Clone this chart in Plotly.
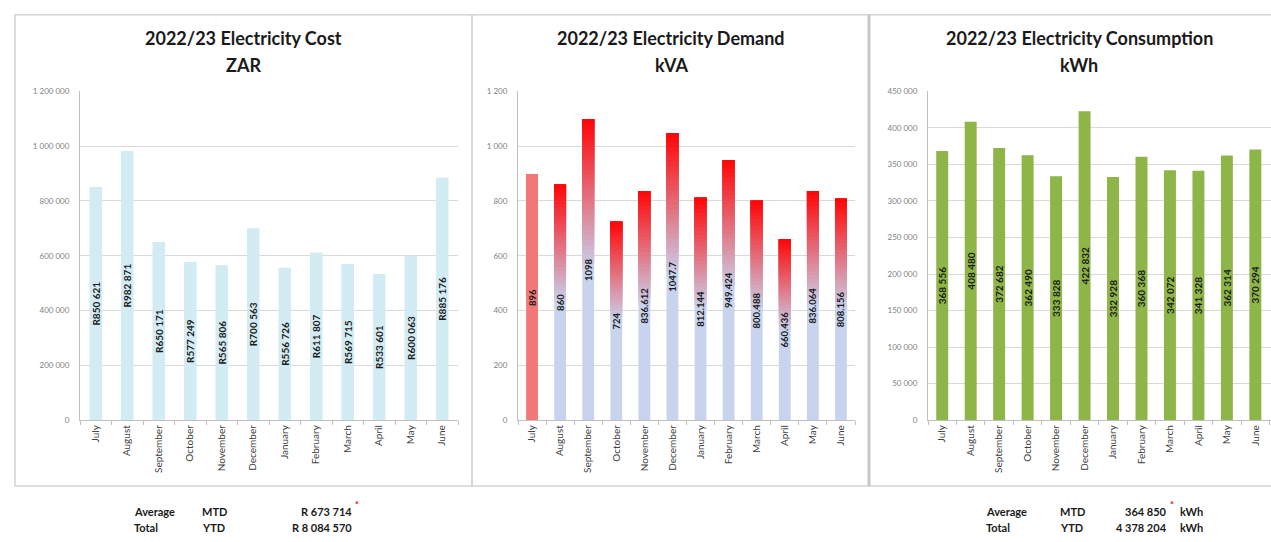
import plotly.graph_objects as go

W, H = 1271, 542

months = ["July", "August", "September", "October", "November", "December",
          "January", "February", "March", "April", "May", "June"]

cost = [850621, 982871, 650171, 577249, 565806, 700563,
        556726, 611807, 569715, 533601, 600063, 885176]
cost_labels = ["R850 621", "R982 871", "R650 171", "R577 249", "R565 806", "R700 563",
               "R556 726", "R611 807", "R569 715", "R533 601", "R600 063", "R885 176"]

demand = [896, 860, 1098, 724, 836.612, 1047.7,
          812.144, 949.424, 800.488, 660.436, 836.064, 808.156]
demand_labels = ["896", "860", "1098", "724", "836.612", "1047.7",
                 "812.144", "949.424", "800.488", "660.436", "836.064", "808.156"]

consumption = [368556, 408480, 372682, 362490, 333828, 422832,
               332928, 360368, 342072, 341328, 362314, 370294]
consumption_labels = ["368 556", "408 480", "372 682", "362 490", "333 828", "422 832",
                      "332 928", "360 368", "342 072", "341 328", "362 314", "370 294"]

cost_summary = ["R 673 714", "R 8 084 570"]
kwh_summary = ["364 850", "4 378 204"]

FONT = "Lato"
LABEL_FONT = dict(family=FONT, size=10, color="#1a1a1a", weight="bold")


def px(x):
    return x / W


def py(y):
    return 1 - y / H


fig = go.Figure()

# ---- Left: cost ----
fig.add_trace(go.Bar(
    x=months, y=cost, xaxis="x", yaxis="y", width=0.4,
    marker=dict(color="#d3ebf2", line=dict(width=0)),
    text=cost_labels, textposition="inside", insidetextanchor="middle",
    textangle=-90, constraintext="none", textfont=LABEL_FONT,
    showlegend=False, hoverinfo="x+y"))

# ---- Middle: demand with vertical gradient ----
lo = (0xc8, 0xd3, 0xee)
hi = (0xff, 0x05, 0x05)
july_col = "#f27878"


def mix(t):
    return "rgb(%d,%d,%d)" % tuple(round(lo[i] + (hi[i] - lo[i]) * t) for i in range(3))


fig.add_trace(go.Bar(
    x=months, y=demand, base=[0] * len(demand),
    xaxis="x2", yaxis="y2", width=0.42,
    marker=dict(color=[july_col if i == 0 else mix(0) for i in range(len(months))],
                line=dict(width=0)),
    showlegend=False, hoverinfo="skip"))
N = 30
for k in range(N):
    f0 = 0.5 + 0.5 * k / N
    c = mix((k + 0.5) / N)
    cols = [july_col if i == 0 else c for i in range(len(months))]
    fig.add_trace(go.Bar(
        x=months, y=[v * (1 - f0) for v in demand], base=[v * f0 for v in demand],
        xaxis="x2", yaxis="y2", width=0.42,
        marker=dict(color=cols, line=dict(width=0)),
        showlegend=False, hoverinfo="skip"))
fig.add_trace(go.Bar(
    x=months, y=demand, xaxis="x2", yaxis="y2", width=0.9,
    marker=dict(color="rgba(0,0,0,0)", line=dict(width=0)),
    text=demand_labels, textposition="inside", insidetextanchor="middle",
    textangle=-90, constraintext="none",
    textfont=dict(family=FONT, size=9.5, color="#1a1a1a", weight="bold"),
    showlegend=False, hoverinfo="x+y"))

# ---- Right: consumption ----
fig.add_trace(go.Bar(
    x=months, y=consumption, xaxis="x3", yaxis="y3", width=0.42,
    marker=dict(color="#8db548", line=dict(width=0)),
    text=consumption_labels, textposition="inside", insidetextanchor="middle",
    textangle=-90, constraintext="none", textfont=LABEL_FONT,
    showlegend=False, hoverinfo="x+y"))

ydom = [py(423), py(88)]
xcommon = dict(type="category", tickangle=-90, showgrid=False, showline=True,
               linecolor="#bfbfbf", linewidth=1, ticks="outside", tickson="boundaries",
               ticklen=4, tickcolor="#bfbfbf", tickfont=dict(family=FONT, size=10, color="#404040"),
               fixedrange=True)
ycommon = dict(showgrid=True, gridcolor="#d9d9d9", gridwidth=1, showline=True,
               linecolor="#bfbfbf", linewidth=1, zeroline=False, ticks="",
               tickfont=dict(family=FONT, size=8, color="#7f7f7f"), tickformat=",d",
               ticklabelstandoff=8, fixedrange=True)

fig.update_layout(
    width=W, height=H, margin=dict(l=0, r=0, t=0, b=0),
    paper_bgcolor="white", plot_bgcolor="white",
    barmode="overlay", separators=". ",
    xaxis=dict(domain=[px(80), px(458)], anchor="y", range=[-0.5, 11.5], **xcommon),
    yaxis=dict(domain=ydom, anchor="x", range=[0, 1200000], dtick=200000, **ycommon),
    xaxis2=dict(domain=[px(518), px(855)], anchor="y2", range=[-0.5, 11.5], **xcommon),
    yaxis2=dict(domain=ydom, anchor="x2", range=[0, 1200], dtick=200, **ycommon),
    xaxis3=dict(domain=[px(928), 1.0], anchor="y3", range=[-0.5, 11.55], **xcommon),
    yaxis3=dict(domain=ydom, anchor="x3", range=[0, 450000], dtick=50000, **ycommon),
)

# Panel frames
shapes = [
    dict(type="rect", xref="paper", yref="paper", x0=px(15), x1=px(472), y0=py(490), y1=py(10),
         line=dict(color="#d4d4d4", width=1.5), layer="below"),
    dict(type="rect", xref="paper", yref="paper", x0=px(472), x1=px(869), y0=py(490), y1=py(10),
         line=dict(color="#d4d4d4", width=1.5), layer="below"),
    dict(type="rect", xref="paper", yref="paper", x0=px(869), x1=px(1280), y0=py(490), y1=py(10),
         line=dict(color="#d4d4d4", width=1.5), layer="below"),
    dict(type="line", xref="paper", yref="paper", x0=px(869), x1=px(869), y0=py(490), y1=py(10),
         line=dict(color="#c8c8c8", width=3)),
]
fig.update_layout(shapes=shapes)

ann = []
TITLE = dict(family=FONT, size=18, color="#1a1a1a")
for cx, l1, l2 in [(243, "2022/23 Electricity Cost", "ZAR"),
                   (671, "2022/23 Electricity Demand", "kVA"),
                   (1079, "2022/23 Electricity Consumption", "kWh")]:
    ann.append(dict(x=px(cx), y=py(34), xref="paper", yref="paper", text="<b>%s</b>" % l1,
                    showarrow=False, xanchor="center", yanchor="middle", font=TITLE))
    ann.append(dict(x=px(cx), y=py(61), xref="paper", yref="paper", text="<b>%s</b>" % l2,
                    showarrow=False, xanchor="center", yanchor="middle", font=TITLE))

FOOT = dict(family=FONT, size=11, color="#1a1a1a")


def foot(x, y, t, anchor="left", font=FOOT):
    ann.append(dict(x=px(x), y=py(y), xref="paper", yref="paper", text="<b>%s</b>" % t,
                    showarrow=False, xanchor=anchor, yanchor="middle", font=font))


STAR = dict(family=FONT, size=9, color="#e00000")
# left footer
foot(132, 516, "Average")
foot(200, 516, "MTD")
foot(354, 516, cost_summary[0], "right")
foot(353, 509, "*", "left", STAR)
foot(132, 532, "Total")
foot(200, 532, "YTD")
foot(354, 532, cost_summary[1], "right")
# right footer
foot(984, 516, "Average")
foot(1058, 516, "MTD")
foot(1169, 516, kwh_summary[0], "right")
foot(1168, 509, "*", "left", STAR)
foot(1178, 516, "kWh")
foot(984, 532, "Total")
foot(1058, 532, "YTD")
foot(1169, 532, kwh_summary[1], "right")
foot(1178, 532, "kWh")

fig.update_layout(annotations=ann)

fig.write_html("out.html")
